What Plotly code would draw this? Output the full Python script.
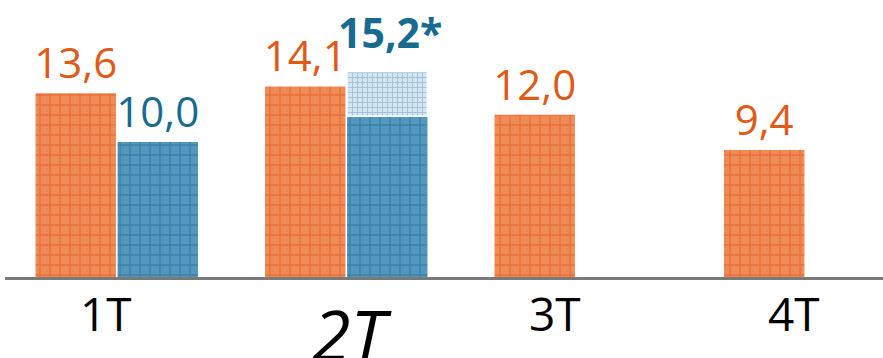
import plotly.graph_objects as go

quarters = ["1T", "2T", "3T", "4T"]
tick_labels = ["1T", "2T", "3T", "4T"]
orange_vals = [13.6, 14.1, 12.0, 9.4]
blue_confirmed = [10.0, 11.9, None, None]
blue_total = [10.0, 15.2, None, None]

# label styling (offsets in px, sizes, italics) kept apart from the data
tick_xshift = [-11, 6, -21, -11]
tick_yshift = [-3, -7, -3, -3]
tick_size = [46, 70, 46, 46]
tick_italic = [False, True, False, False]
blue_slot_shift = 44    # px from category centre to the blue bar centre
proj_label_lift = 10    # px above the projected bar

def fmt(v):
    return "" if v is None else f"{v:.1f}".replace(".", ",")

blue_proj = [None if (t is None or c is None or t == c) else round(t - c, 2)
             for t, c in zip(blue_total, blue_confirmed)]
blue_proj_base = [c if p is not None else None for c, p in zip(blue_confirmed, blue_proj)]
conf_text = [fmt(c) if p is None else "" for c, p in zip(blue_confirmed, blue_proj)]

ORANGE_TXT = "#E05A17"
BLUE_TXT = "#176A90"

fig = go.Figure()
fig.add_trace(go.Bar(
    x=quarters, y=orange_vals, offsetgroup="o",
    text=[fmt(v) for v in orange_vals], textposition="outside", constraintext="none",
    textfont=dict(family="Open Sans", size=42, color=ORANGE_TXT),
    marker=dict(color="#EF8A55", line=dict(width=0),
                pattern=dict(shape="+", fgcolor="#DB5716", bgcolor="#F08A56",
                             size=10, solidity=0.25, fillmode="overlay")),
    cliponaxis=False,
))
fig.add_trace(go.Bar(
    x=quarters, y=blue_confirmed, offsetgroup="b",
    text=conf_text, textposition="outside", constraintext="none",
    textfont=dict(family="Open Sans", size=42, color=BLUE_TXT),
    marker=dict(color="#4E92B8", line=dict(width=0),
                pattern=dict(shape="+", fgcolor="#1A6995", bgcolor="#5598BD",
                             size=10, solidity=0.25, fillmode="overlay")),
    cliponaxis=False,
))
fig.add_trace(go.Bar(
    x=quarters, y=blue_proj, base=blue_proj_base, offsetgroup="b",
    marker=dict(color="#BCD6E6", line=dict(width=1.5, color="white"),
                pattern=dict(shape="+", fgcolor="#6A9FC2", bgcolor="#D6E6F0",
                             size=5, solidity=0.35, fillmode="overlay")),
    cliponaxis=False,
))

# bold label for the projected total
for q, t, p in zip(quarters, blue_total, blue_proj):
    if p is not None:
        fig.add_annotation(
            x=q, y=t, xref="x", yref="y", yanchor="bottom", xanchor="center",
            text="<b>" + fmt(t) + "*</b>", showarrow=False,
            xshift=blue_slot_shift, yshift=proj_label_lift,
            font=dict(family="Open Sans", size=41, color=BLUE_TXT),
        )

for q, lab, dx, dy, sz, it in zip(quarters, tick_labels, tick_xshift, tick_yshift, tick_size, tick_italic):
    fig.add_annotation(
        x=q, y=0, xref="x", yref="y", yanchor="top", xanchor="center",
        text=("<i>" + lab + "</i>") if it else lab, showarrow=False,
        xshift=dx, yshift=dy,
        font=dict(family="Liberation Sans Narrow, Open Sans", size=sz, color="#000000"),
    )

fig.update_layout(
    width=883, height=358,
    margin=dict(l=5, r=0, t=0, b=81),
    paper_bgcolor="white", plot_bgcolor="white",
    barmode="group", bargap=0.285, bargroupgap=0.02,
    showlegend=False,
    xaxis=dict(
        type="category", range=[-0.487, 3.339],
        showticklabels=False,
        showline=True, linecolor="#7A7A7A", linewidth=3,
        showgrid=False, zeroline=False, ticks="",
    ),
    yaxis=dict(
        range=[0, 20.5], visible=False, showgrid=False, zeroline=False,
    ),
)

fig.write_html("out.html")
